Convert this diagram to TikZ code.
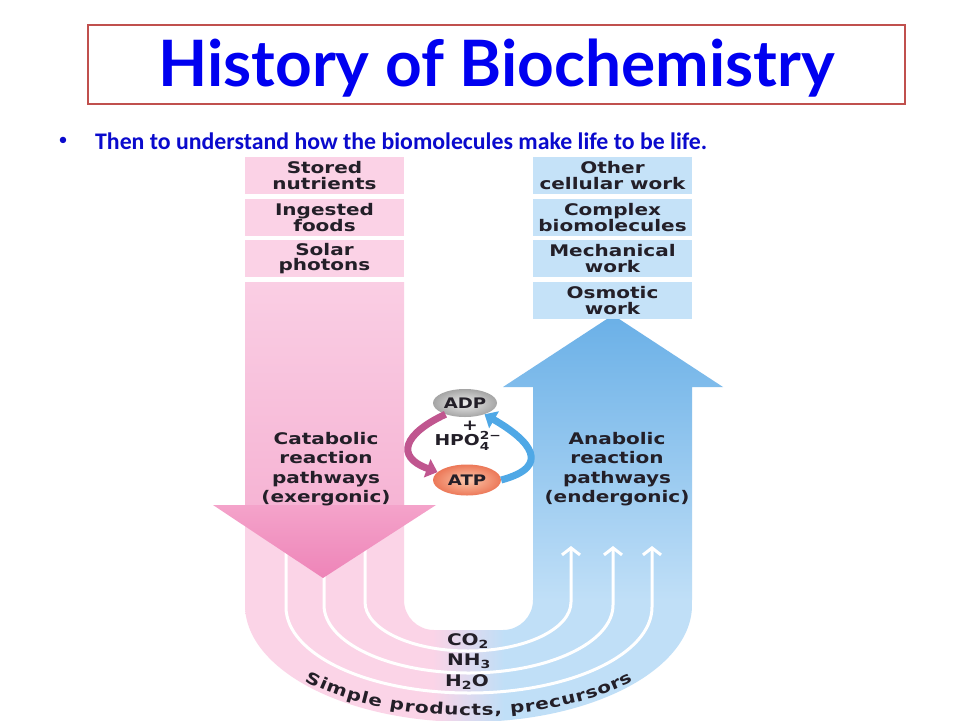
\documentclass[tikz,border=0pt]{standalone}
\usepackage{fontspec}
\setmainfont{DejaVu Sans}
\newfontfamily\labfont{DejaVu Sans}[FakeStretch=1.25]
\newfontfamily\slidefont{Carlito}
\newfontfamily\titlefont{Lato}
\usetikzlibrary{arrows.meta,shapes.geometric,decorations.text}

\definecolor{titleblue}{RGB}{0,0,240}
\definecolor{textblue}{RGB}{10,10,205}
\definecolor{boxred}{RGB}{192,80,77}
\definecolor{pinkbox}{RGB}{251,210,230}
\definecolor{bluebox}{RGB}{197,226,248}
\definecolor{pinktop}{RGB}{250,206,228}
\definecolor{pinkmid}{RGB}{246,180,212}
\definecolor{pinkhead}{RGB}{244,163,202}
\definecolor{pinktip}{RGB}{238,132,184}
\definecolor{pinkband}{RGB}{251,212,231}
\definecolor{blueband}{RGB}{192,223,247}
\definecolor{bluetop}{RGB}{106,176,231}
\definecolor{labgray}{RGB}{35,31,40}
\definecolor{catcolor}{RGB}{192,86,143}
\definecolor{anacolor}{RGB}{79,168,230}
\definecolor{adpin}{RGB}{236,236,236}
\definecolor{adpout}{RGB}{165,165,165}
\definecolor{atpin}{RGB}{252,200,172}
\definecolor{atpout}{RGB}{236,120,88}

\pgfdeclarehorizontalshading{ushade}{100bp}{color(0bp)=(pinkband); color(46bp)=(pinkband); color(54bp)=(blueband); color(100bp)=(blueband)}

\newcommand{\pathfont}{\labfont\bfseries\fontsize{16}{16}\selectfont}

\tikzset{
  sourcebox/.style={fill=pinkbox, minimum width=159pt, minimum height=37pt, inner sep=0pt,
    align=center, text=labgray, font=\labfont\bfseries\fontsize{16}{15.5}\selectfont},
  workbox/.style={sourcebox, fill=bluebox},
  lab/.style={align=center, inner sep=0pt, text=labgray,
    font=\labfont\bfseries\fontsize{16}{19.5}\selectfont},
  uline/.style={white, line width=3pt},
  molecule/.style={ellipse, inner sep=0pt, text=labgray,
    font=\labfont\bfseries\fontsize{14.5}{14.5}\selectfont},
  cyclearrow/.style={line width=7pt, -{Triangle[length=11pt,width=19pt]}}
}

\begin{document}
\begin{tikzpicture}[x=1pt, y=-1pt, >={Straight Barb[length=7pt,width=18pt]}]
    % Fundo e limites
    \useasboundingbox[fill=white] (0,0) rectangle (960,720);

    % Titulo
    \node[draw=boxred, line width=2.5pt, fill=white, minimum width=817pt, minimum height=79pt] (titlebox) at (496.5,64.5) {};
    \node[text=titleblue, font=\titlefont\bfseries\fontsize{64}{64}\selectfont] (title) at (496.5,68) {History of Biochemistry};

    % Texto do topico
    \node[text=textblue, font=\slidefont\fontsize{18}{18}\selectfont] (dot) at (63,141) {•};
    \node[anchor=west, inner sep=0pt, text=textblue, font=\slidefont\bfseries\fontsize{23.8}{23.8}\selectfont]
        (point) at (95,141) {Then to understand how the biomolecules make life to be life.};

    % Faixa em U (rosa -> azul)
    \shade[shading=ushade] (245,500) -- (245,605)
        .. controls (245,669.6) and (345.1,722) .. (468.5,722)
        .. controls (591.9,722) and (692,669.6) .. (692,605) -- (692,500) -- (533,500) -- (533,600)
        .. controls (533,616.6) and (519.6,630) .. (503,630) -- (434,630)
        .. controls (417.4,630) and (404,616.6) .. (404,600) -- (404,500) -- cycle;

    % Seta catabolica (haste)
    \shade[top color=pinktop, bottom color=pinkmid] (245,282) rectangle (404,506);

    % Seta anabolica
    \shade[top color=bluetop, bottom color=blueband] (613,315) -- (723,387) -- (692,387) -- (692,600)
        -- (533,600) -- (533,387) -- (503,387) -- cycle;

    % Linhas brancas: CO2, NH3, H2O
    \draw[uline, ->] (365,530) -- (365,602) .. controls (365,629) and (411,651) .. (468,651)
        .. controls (525,651) and (571,629) .. (571,602) -- (571,546);
    \draw[uline, ->] (324,530) -- (324,605) .. controls (324,642.5) and (388.7,673) .. (468.5,673)
        .. controls (548.3,673) and (613,642.5) .. (613,605) -- (613,546);
    \draw[uline, ->] (286,530) -- (286,607) .. controls (286,654.5) and (368,693) .. (469,693)
        .. controls (570,693) and (652,654.5) .. (652,607) -- (652,546);

    % Seta catabolica (ponta)
    \shade[top color=pinkhead, bottom color=pinktip] (213,505) -- (436,505) -- (323,578) -- cycle;

    % Caixas da esquerda
    \node[sourcebox] (stored) at (324.5,175.5) {Stored\\nutrients};
    \node[sourcebox] (foods) at (324.5,217.5) {Ingested\\foods};
    \node[sourcebox] (solar) at (324.5,258.5) {Solar\\photons};

    % Caixas da direita
    \node[workbox] (other) at (612.5,175.5) {Other\\cellular work};
    \node[workbox] (complex) at (612.5,217.5) {Complex\\biomolecules};
    \node[workbox] (mech) at (612.5,258.5) {Mechanical\\work};
    \node[workbox] (osmotic) at (612.5,300.5) {Osmotic\\work};

    % Rotulos das vias
    \node[lab] (catabolic) at (326,469) {Catabolic\\reaction\\pathways\\(exergonic)};
    \node[lab] (anabolic) at (617,469) {Anabolic\\reaction\\pathways\\(endergonic)};

    % Produtos simples
    \node[lab] (co2) at (468,641) {CO\textsubscript{2}};
    \node[lab] (nh3) at (469,661) {NH\textsubscript{3}};
    \node[lab] (h2o) at (467,682) {H\textsubscript{2}O};
    \path[decorate, decoration={text along path, text align={fit to path},
          text={|\pathfont\color{labgray}|Simple products, precursors}}]
        (305,681) .. controls (390,727) and (548,727) .. (633,681);

    % Ciclo ADP / ATP
    \node[molecule, minimum width=64pt, minimum height=28pt, inner color=adpin, outer color=adpout] (adp) at (465,403) {ADP};
    \node[molecule, minimum width=68pt, minimum height=31pt, inner color=atpin, outer color=atpout] (atp) at (467,480) {ATP};
    \node[lab, font=\labfont\bfseries\fontsize{15}{15}\selectfont] (plus) at (470,426) {+};
    \node[lab, font=\labfont\bfseries\fontsize{15}{15}\selectfont] (hpo) at (462,441)
        {HPO\rlap{\raisebox{0.42em}{\fontsize{11}{11}\selectfont 2−}}\raisebox{-0.3em}{\fontsize{11}{11}\selectfont 4}};
    \draw[cyclearrow, catcolor] (adp.210) to[out=205, in=160, looseness=2] (atp.165);
    \draw[cyclearrow, anacolor] (atp.east) to[out=15, in=-30, looseness=2] (adp.-30);
\end{tikzpicture}
\end{document}
